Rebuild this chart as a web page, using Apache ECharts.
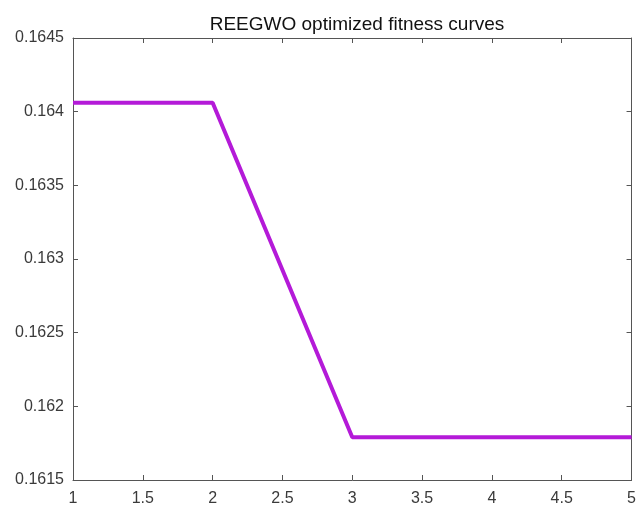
<!DOCTYPE html>
<html><head><meta charset="utf-8">
<script src="https://cdn.jsdelivr.net/npm/echarts@6/dist/echarts.min.js"></script>
<style>html,body{margin:0;padding:0;background:#fff}#c{width:639px;height:508px}</style>
</head><body><div id="c"></div>
<script>
const titleText = 'REEGWO optimized fitness curves';
const xValues = [1, 2, 3, 4, 5];
const fitness = [0.16406, 0.16406, 0.16179, 0.16179, 0.16179];

const chart = echarts.init(document.getElementById('c'), null, {renderer: 'canvas'});
const axisCol = '#555';
const labelCol = '#3a3a3a';
const fontFam = 'Liberation Sans, Arial, sans-serif';
const xBase = {
  type: 'value', min: 1, max: 5, interval: 0.5,
  axisLine: {show: true, onZero: false, lineStyle: {color: axisCol, width: 1}},
  axisTick: {show: true, inside: true, length: 5, lineStyle: {color: axisCol}},
  splitLine: {show: false}
};
const yBase = {
  type: 'value', min: 0.1615, max: 0.1645, interval: 0.0005,
  axisLine: {show: true, onZero: false, lineStyle: {color: axisCol, width: 1}},
  axisTick: {show: true, inside: true, length: 5, lineStyle: {color: axisCol}},
  splitLine: {show: false}
};
chart.setOption({
  animation: false,
  backgroundColor: '#fff',
  title: {
    text: titleText, left: 352, top: 10, textAlign: 'center',
    textStyle: {fontFamily: fontFam, fontSize: 19, fontWeight: 'normal', color: '#111'}
  },
  grid: {left: 73, right: 3, top: 38, bottom: 28, containLabel: false},
  xAxis: [
    Object.assign({}, xBase, {position: 'bottom',
      axisLabel: {show: true, color: labelCol, fontFamily: fontFam, fontSize: 16, margin: 11,
        formatter: v => String(+v.toFixed(1))}}),
    Object.assign({}, xBase, {position: 'top', axisLabel: {show: false}})
  ],
  yAxis: [
    Object.assign({}, yBase, {position: 'left',
      axisLabel: {show: true, color: labelCol, fontFamily: fontFam, fontSize: 16, margin: 9,
        formatter: v => String(+v.toFixed(4))}}),
    Object.assign({}, yBase, {position: 'right', axisLabel: {show: false}})
  ],
  series: [{
    type: 'line',
    data: xValues.map((x, i) => [x, fitness[i]]),
    showSymbol: false,
    lineStyle: {color: '#b41ad8', width: 4},
    itemStyle: {color: '#b41ad8'}
  }]
});
</script></body></html>
